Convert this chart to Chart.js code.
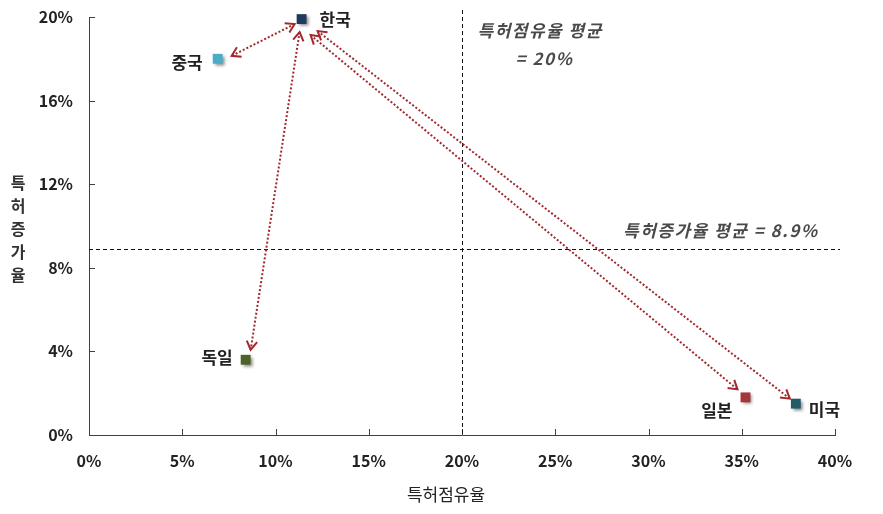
<!DOCTYPE html>
<html>
<head>
<meta charset="utf-8">
<script src="https://cdn.jsdelivr.net/npm/chart.js@4.4.1/dist/chart.umd.min.js"></script>
<style>
  html, body { margin: 0; padding: 0; background: #fff; }
  #wrap { width: 883px; height: 514px; position: relative; }
</style>
</head>
<body>
<div id="wrap"><canvas id="myChart"></canvas></div>
<script>
const countries = ["한국", "중국", "독일", "일본", "미국"];
const shareValues = [11.4, 6.9, 8.4, 35.2, 37.9];   // 특허점유율 (%)
const growthValues = [19.9, 18.0, 3.6, 1.8, 1.5];   // 특허증가율 (%)
const pointColors = ["#1f3a60", "#4bacc6", "#4f6228", "#a5373a", "#235b68"];
const avgShare = 20;
const avgGrowth = 8.9;
const xTicks = [0, 5, 10, 15, 20, 25, 30, 35, 40];
const yTicks = [0, 4, 8, 12, 16, 20];
const arrowPairs = [[0, 1], [0, 2], [0, 3], [0, 4]];

const FONT = "'Noto Sans CJK KR', 'Noto Sans', sans-serif";
const arrowColor = "#a3282d";

// label placement next to each point (pixels)
const labelStyle = [
  {dx: 18, dy: 0, align: "left"},
  {dx: -15, dy: 4, align: "right"},
  {dx: -13, dy: -2, align: "right"},
  {dx: -13, dy: 13, align: "right"},
  {dx: 13, dy: 6, align: "left"}
];
// arrow end shifts from the point centres (pixels)
const arrowShift = [
  {s: [-7, 5], e: [14, -3]},
  {s: [-2, 13], e: [5, -10]},
  {s: [9, 16], e: [-8, -8]},
  {s: [16, 12], e: [-6, -5]}
];

function drawHead(ctx, x, y, ang) {
  const len = 10, spread = 0.55;
  ctx.beginPath();
  ctx.moveTo(x - len * Math.cos(ang - spread), y - len * Math.sin(ang - spread));
  ctx.lineTo(x, y);
  ctx.lineTo(x - len * Math.cos(ang + spread), y - len * Math.sin(ang + spread));
  ctx.stroke();
}

const shadowPlugin = {
  id: "shadow",
  beforeDatasetsDraw(chart) {
    const ctx = chart.ctx;
    ctx.save();
    ctx.shadowColor = "rgba(0,0,0,0.45)";
    ctx.shadowBlur = 3;
    ctx.shadowOffsetX = 2;
    ctx.shadowOffsetY = 2;
  },
  afterDatasetsDraw(chart) {
    chart.ctx.restore();
  }
};

const extras = {
  id: "extras",
  beforeDatasetsDraw(chart) {
    const ctx = chart.ctx;
    const a = chart.chartArea;
    const xs = chart.scales.x, ys = chart.scales.y;

    // inside tick marks
    ctx.save();
    ctx.strokeStyle = "#404040";
    ctx.lineWidth = 1;
    xTicks.forEach(v => {
      const px = Math.round(xs.getPixelForValue(v)) + 0.5;
      ctx.beginPath(); ctx.moveTo(px, a.bottom); ctx.lineTo(px, a.bottom - 6); ctx.stroke();
    });
    yTicks.forEach(v => {
      const py = Math.round(ys.getPixelForValue(v)) + 0.5;
      ctx.beginPath(); ctx.moveTo(a.left, py); ctx.lineTo(a.left + 6, py); ctx.stroke();
    });

    // average lines
    ctx.strokeStyle = "#111";
    ctx.setLineDash([4, 3]);
    const ax = Math.round(xs.getPixelForValue(avgShare)) + 0.5;
    ctx.beginPath(); ctx.moveTo(ax, a.top - 7); ctx.lineTo(ax, a.bottom); ctx.stroke();
    const ay = Math.round(ys.getPixelForValue(avgGrowth)) + 0.5;
    ctx.beginPath(); ctx.moveTo(a.left, ay); ctx.lineTo(a.right + 5, ay); ctx.stroke();
    ctx.setLineDash([]);

    // annotations
    ctx.fillStyle = "#4a4a4a";
    ctx.font = "italic bold 17px " + FONT;
    ctx.letterSpacing = "1.5px";
    ctx.textBaseline = "middle";
    ctx.textAlign = "left";
    ctx.fillText("특허점유율 평균", ax + 15, 31);
    ctx.fillText("= 20%", ax + 53, 59);
    ctx.fillText("특허증가율 평균 = 8.9%", a.right - 212, ay - 19);
    ctx.letterSpacing = "0px";

    // arrows
    ctx.strokeStyle = arrowColor;
    ctx.lineWidth = 2;
    arrowPairs.forEach((p, i) => {
      const sh = arrowShift[i];
      const x1 = xs.getPixelForValue(shareValues[p[0]]) + sh.s[0];
      const y1 = ys.getPixelForValue(growthValues[p[0]]) + sh.s[1];
      const x2 = xs.getPixelForValue(shareValues[p[1]]) + sh.e[0];
      const y2 = ys.getPixelForValue(growthValues[p[1]]) + sh.e[1];
      ctx.setLineDash([2, 2]);
      ctx.beginPath(); ctx.moveTo(x1, y1); ctx.lineTo(x2, y2); ctx.stroke();
      ctx.setLineDash([]);
      const ang = Math.atan2(y2 - y1, x2 - x1);
      drawHead(ctx, x2, y2, ang);
      drawHead(ctx, x1, y1, ang + Math.PI);
    });
    ctx.restore();
  },
  afterDraw(chart) {
    const ctx = chart.ctx;
    const xs = chart.scales.x, ys = chart.scales.y;
    ctx.save();
    ctx.fillStyle = "#222";
    ctx.font = "bold 17px " + FONT;
    ctx.textBaseline = "middle";
    countries.forEach((c, i) => {
      const st = labelStyle[i];
      ctx.textAlign = st.align;
      ctx.fillText(c, xs.getPixelForValue(shareValues[i]) + st.dx, ys.getPixelForValue(growthValues[i]) + st.dy);
    });

    // vertical y-axis title
    ctx.fillStyle = "#333";
    ctx.font = "bold 16px " + FONT;
    ctx.textAlign = "center";
    const yt = "특허증가율";
    for (let k = 0; k < yt.length; k++) {
      ctx.fillText(yt[k], 18, 183 + k * 23);
    }
    // x-axis title
    ctx.font = "17px " + FONT;
    ctx.fillStyle = "#222";
    ctx.fillText("특허점유율", 446, 495);
    ctx.restore();
  }
};

new Chart("myChart", {
  type: "scatter",
  data: {
    datasets: [{
      data: shareValues.map((v, i) => ({x: v, y: growthValues[i]})),
      backgroundColor: pointColors,
      borderColor: pointColors,
      borderWidth: 0,
      pointStyle: "rect",
      pointRadius: 7,
      pointHoverRadius: 7,
      clip: false
    }]
  },
  options: {
    responsive: true,
    maintainAspectRatio: false,
    animation: false,
    layout: {padding: {left: 0, right: 48, top: 17, bottom: 0}},
    plugins: {
      legend: {display: false},
      tooltip: {enabled: false}
    },
    scales: {
      x: {
        type: "linear",
        min: 0, max: 40,
        afterFit(scale) { scale.height = 79; scale.paddingLeft = 0; scale.paddingRight = 0; },
        afterBuildTicks(scale) { scale.ticks = xTicks.map(v => ({value: v})); },
        grid: {display: false, drawTicks: false},
        border: {display: true, color: "#404040", width: 1},
        ticks: {
          padding: 16,
          color: "#222",
          font: {family: FONT, size: 16, weight: "bold"},
          callback: v => v + "%"
        }
      },
      y: {
        type: "linear",
        min: 0, max: 20,
        afterFit(scale) { scale.width = 89; scale.paddingTop = 0; scale.paddingBottom = 0; },
        afterBuildTicks(scale) { scale.ticks = yTicks.map(v => ({value: v})); },
        grid: {display: false, drawTicks: false},
        border: {display: true, color: "#404040", width: 1},
        ticks: {
          padding: 16,
          color: "#222",
          font: {family: FONT, size: 16, weight: "bold"},
          callback: v => v + "%"
        }
      }
    }
  },
  plugins: [extras, shadowPlugin]
});
</script>
</body>
</html>
